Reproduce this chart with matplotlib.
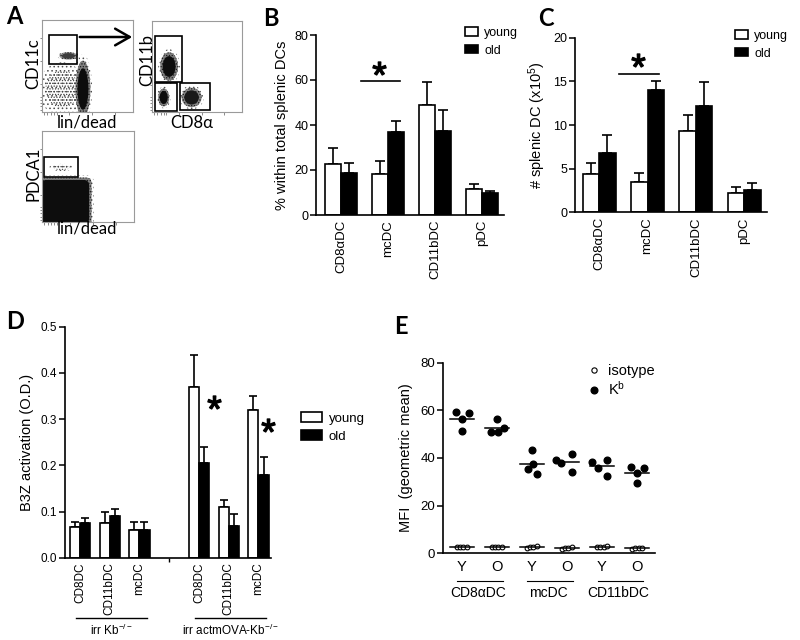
import numpy as np
import matplotlib
matplotlib.use('Agg')
import matplotlib.pyplot as plt
from matplotlib.patches import Ellipse, Rectangle, Patch, FancyArrowPatch, FancyBboxPatch
from matplotlib.lines import Line2D
import matplotlib.transforms as mtrans

plt.rcParams['font.family'] = ['Liberation Sans', 'DejaVu Sans']
plt.rcParams['mathtext.fontset'] = 'custom'
plt.rcParams['mathtext.rm'] = 'Liberation Sans'
plt.rcParams['mathtext.it'] = 'Liberation Sans:italic'
plt.rcParams['mathtext.bf'] = 'Liberation Sans:bold'
plt.rcParams['hatch.linewidth'] = 0.6

# ---------------- data ----------------
# Panel A: flow populations (shape, cx, cy, width, height, darkness) in plot fraction
flow_tl_pops = [('e', 0.22, 0.25, 0.52, 0.58, 0.3),
                ('e', 0.45, 0.25, 0.20, 0.75, 1.0),
                ('e', 0.29, 0.61, 0.24, 0.10, 0.8)]
flow_tr_pops = [('e', 0.19, 0.50, 0.24, 0.38, 1.0),
                ('e', 0.13, 0.16, 0.15, 0.24, 1.0),
                ('e', 0.44, 0.16, 0.27, 0.26, 0.95)]
flow_bl_pops = [('r', 0.25, 0.22, 0.62, 0.58, 1.0),
                ('e', 0.21, 0.60, 0.26, 0.08, 0.4)]
flow_tl_gates = [(0.08, 0.52, 0.30, 0.32)]
flow_tr_gates = [(0.03, 0.33, 0.30, 0.51), (0.03, 0.01, 0.25, 0.31), (0.31, 0.02, 0.33, 0.30)]
flow_bl_gates = [(0.02, 0.49, 0.37, 0.22)]

# Panel B: % within total splenic DCs
dc_types = ['CD8\u03b1DC', 'mcDC', 'CD11bDC', 'pDC']
b_young = [22.5, 18.2, 48.9, 11.6]
b_young_sem = [7.5, 5.7, 10.4, 2.0]
b_old = [18.8, 37.0, 37.5, 9.6]
b_old_sem = [4.2, 4.9, 9.0, 1.1]

# Panel C: # splenic DC (x10^5)
c_young = [4.35, 3.44, 9.3, 2.2]
c_young_sem = [1.25, 1.1, 1.8, 0.7]
c_old = [6.83, 14.0, 12.2, 2.55]
c_old_sem = [2.07, 1.07, 2.7, 0.75]

# Panel D: B3Z activation
d_types = ['CD8DC', 'CD11bDC', 'mcDC']
d_groups = ['irr Kb$^{\\mathregular{-/-}}$', 'irr actmOVA-Kb$^{\\mathregular{-/-}}$']
d_young = [0.067, 0.076, 0.060, 0.370, 0.110, 0.320]
d_young_sem = [0.011, 0.022, 0.018, 0.069, 0.014, 0.030]
d_old = [0.076, 0.091, 0.060, 0.206, 0.069, 0.180]
d_old_sem = [0.011, 0.014, 0.018, 0.034, 0.026, 0.037]

# Panel E: MFI
e_groups = ['CD8\u03b1DC', 'mcDC', 'CD11bDC']
e_ages = ['Y', 'O']
e_kb = [[59.4, 56.2, 51.3, 58.7],
        [56.2, 51.0, 51.0, 52.4],
        [43.4, 35.2, 37.5, 33.3],
        [39.2, 37.8, 41.5, 34.0],
        [38.3, 35.7, 39.2, 32.6],
        [36.1, 35.9, 33.8, 29.6]]
e_kb_jitter = [[-0.16, 0.02, 0.02, 0.22],
               [0.00, -0.17, 0.03, 0.22],
               [0.02, -0.11, 0.03, 0.16],
               [-0.31, -0.15, 0.14, 0.14],
               [-0.27, -0.11, 0.16, 0.16],
               [-0.17, 0.21, 0.02, 0.02]]
e_iso = [[2.5, 2.5, 2.6, 2.6],
         [2.6, 2.5, 2.6, 2.7],
         [2.3, 2.5, 2.6, 2.9],
         [2.0, 2.1, 2.3, 2.8],
         [2.6, 2.5, 2.6, 3.0],
         [2.0, 2.3, 2.4, 2.3]]
e_iso_jitter = [-0.13, -0.04, 0.05, 0.14]

# ---------------- figure ----------------
W, H = 800, 640
fig = plt.figure(figsize=(8, 6.4), dpi=100)


def ax_px(x0, y0, x1, y1):
    return fig.add_axes([x0 / W, 1 - y1 / H, (x1 - x0) / W, (y1 - y0) / H])


def ftext(x, y, s, **kw):
    return fig.text(x / W, 1 - y / H, s, **kw)


LETTER = dict(fontsize=17, fontweight='bold', family=['Lato', 'DejaVu Sans'], va='top', ha='left')
ftext(6, 5, 'A', **LETTER)
ftext(263, 7, 'B', **LETTER)
ftext(538, 7, 'C', **LETTER)
ftext(6, 310, 'D', **LETTER)
ftext(394, 315, 'E', **LETTER)


# ---------- Panel A ----------
def shape_patch(kind, cx, cy, w, h, scale, **kw):
    if kind == 'e':
        return Ellipse((cx, cy), w * scale, h * scale, **kw)
    inset = (1 - scale) * 0.12
    return FancyBboxPatch((cx - w / 2 + inset, cy - h / 2 + inset), w - 2 * inset, h - 2 * inset,
                          boxstyle='round,pad=0,rounding_size=0.06', **kw)


def flow_axes(box, pops, gates):
    ax = ax_px(*box)
    ax.set_xlim(0, 1)
    ax.set_ylim(0, 1)
    for s in ax.spines.values():
        s.set_color('#9a9a9a')
        s.set_linewidth(0.8)
    ticks = [0.02, 0.06, 0.10, 0.13, 0.16, 0.30, 0.55, 0.80]
    ax.set_xticks(ticks)
    ax.set_yticks(ticks)
    ax.set_xticklabels([])
    ax.set_yticklabels([])
    ax.tick_params(length=1.8, width=0.6, color='#777777', direction='out')
    for (kind, cx, cy, w, h, d) in pops:
        ax.add_patch(shape_patch(kind, cx, cy, w, h, 1.0, facecolor='none',
                                 edgecolor=(0.3, 0.3, 0.3), hatch='....', lw=0))
        if d >= 0.5:
            g1 = 1 - 0.5 * d
            ax.add_patch(shape_patch(kind, cx, cy, w, h, 0.82, facecolor=(g1, g1, g1), edgecolor='none'))
            ax.add_patch(shape_patch(kind, cx, cy, w, h, 0.82, facecolor='none',
                                     edgecolor=(0.1, 0.1, 0.1), hatch='......', lw=0))
            g2 = 1 - 0.95 * d
            ax.add_patch(shape_patch(kind, cx, cy, w, h, 0.6, facecolor=(g2, g2, g2), edgecolor='none'))
        else:
            ax.add_patch(shape_patch(kind, cx, cy, w, h, 0.7, facecolor='none',
                                     edgecolor=(0.25, 0.25, 0.25), hatch='......', lw=0))
    for (gx, gy, gw, gh) in gates:
        ax.add_patch(Rectangle((gx, gy), gw, gh, facecolor='none', edgecolor='black', lw=1.2))
    return ax


flow_axes((42, 20, 133, 112), flow_tl_pops, flow_tl_gates)
flow_axes((152, 21, 242, 112), flow_tr_pops, flow_tr_gates)
flow_axes((42, 131, 134, 222), flow_bl_pops, flow_bl_gates)

FL = dict(family=['Lato', 'DejaVu Sans'], fontsize=12, ha='center', va='center')
ftext(33, 64, 'CD11c', rotation=90, **FL)
ftext(87, 122, 'lin/dead', **FL)
ftext(147, 60, 'CD11b', rotation=90, **FL)
ftext(192, 123, 'CD8\u03b1', **FL)
ftext(33, 174, 'PDCA1', rotation=90, **FL)
ftext(87, 229, 'lin/dead', **FL)
fig.add_artist(FancyArrowPatch(
    (77 / W, 1 - 37 / H), (135 / W, 1 - 37 / H), transform=fig.transFigure,
    arrowstyle='->,head_length=7,head_width=4', lw=1.8, color='black',
    mutation_scale=1.5))


# ---------- helpers ----------
def style(ax, ysize=9):
    for s in ['top', 'right']:
        ax.spines[s].set_visible(False)
    for s in ['left', 'bottom']:
        ax.spines[s].set_linewidth(1.2)
    ax.tick_params(axis='y', length=4, width=1.1, labelsize=ysize, pad=1.5)
    ax.tick_params(axis='x', length=0)


def bars(ax, x, young, ysem, old, osem, w=0.34, cap=3.3):
    x = np.asarray(x, dtype=float)
    ax.bar(x - w / 2, young, w, color='white', edgecolor='black', lw=1.2, zorder=2)
    ax.bar(x + w / 2, old, w, color='black', edgecolor='black', lw=1.2, zorder=2)
    z = np.zeros(len(x))
    ax.errorbar(x - w / 2, young, yerr=[z, ysem], fmt='none', ecolor='black',
                elinewidth=1.2, capsize=cap, capthick=1.2, zorder=1)
    ax.errorbar(x + w / 2, old, yerr=[z, osem], fmt='none', ecolor='black',
                elinewidth=1.2, capsize=cap, capthick=1.2, zorder=1)


def bar_legend(ax, anchor, fs, hl, hh, spacing):
    handles = [Patch(facecolor='white', edgecolor='black', lw=1.2),
               Patch(facecolor='black', edgecolor='black', lw=1.2)]
    ax.legend(handles, ['young', 'old'], loc='upper left',
              bbox_to_anchor=(anchor[0] / W, 1 - anchor[1] / H),
              bbox_transform=fig.transFigure, frameon=False, fontsize=fs,
              handlelength=hl, handleheight=hh, handletextpad=0.5,
              labelspacing=spacing, borderpad=0, borderaxespad=0)


STAR_MS = 9.5


def sig(ax, x0, x1, y, sy):
    ax.plot([x0, x1], [y, y], color='black', lw=1.2, clip_on=False)
    ax.plot([(x0 + x1) / 2 - 0.03], [sy], marker='$*$', ms=STAR_MS, color='black', clip_on=False)


# ---------- Panel B ----------
axB = ax_px(316, 35, 504, 215)
style(axB)
xb = np.arange(len(dc_types))
bars(axB, xb, b_young, b_young_sem, b_old, b_old_sem)
axB.set_xlim(-0.53, 3.47)
axB.set_ylim(0, 80)
axB.set_yticks([0, 20, 40, 60, 80])
axB.set_xticks(xb)
axB.set_xticklabels(dc_types, rotation=90, fontsize=9.5)
axB.set_ylabel('% within total splenic DCs', fontsize=10.5, labelpad=4)
sig(axB, 0.42, 1.26, 59.6, 65.5)
bar_legend(axB, (465, 27), 9, 1.05, 0.65, 0.45)

# ---------- Panel C ----------
axC = ax_px(575, 37.7, 767, 212.3)
style(axC)
bars(axC, xb, c_young, c_young_sem, c_old, c_old_sem)
axC.set_xlim(-0.5, 3.47)
axC.set_ylim(0, 20)
axC.set_yticks([0, 5, 10, 15, 20])
axC.set_xticks(xb)
axC.set_xticklabels(dc_types, rotation=90, fontsize=9.5)
axC.set_ylabel('# splenic DC (x10$^{\\mathregular{5}}$)', fontsize=10.5, labelpad=4)
sig(axC, 0.41, 1.24, 15.8, 17.4)
bar_legend(axC, (735, 30), 9, 1.05, 0.65, 0.45)

# ---------- Panel D ----------
axD = ax_px(65, 326.7, 271, 557.7)
style(axD, ysize=8.5)
xd = np.array([0, 1, 2, 4, 5, 6])
bars(axD, xd, d_young, d_young_sem, d_old, d_old_sem, w=0.34, cap=2.8)
axD.set_xlim(-0.5, 6.42)
axD.set_ylim(0, 0.5)
axD.set_yticks([0.0, 0.1, 0.2, 0.3, 0.4, 0.5])
axD.set_yticklabels(['%.1f' % v for v in [0.0, 0.1, 0.2, 0.3, 0.4, 0.5]])
axD.set_xticks(xd)
axD.set_xticklabels(d_types * 2, rotation=90, fontsize=8.5)
axD.set_xticks([3], minor=True)
axD.tick_params(axis='x', which='minor', length=3, width=1)
axD.set_ylabel('B3Z activation (O.D.)', fontsize=10.5, labelpad=5)
trD = mtrans.blended_transform_factory(axD.transData, axD.transAxes)
for gi, gname in enumerate(d_groups):
    start = xd[gi * 3] - 0.13
    end = xd[gi * 3 + 2] + 0.26
    axD.plot([start, end], [-0.262, -0.262], color='black', lw=1.0, transform=trD, clip_on=False)
    axD.text((start + end) / 2, -0.28, gname, transform=trD, ha='center', va='top', fontsize=8.5)
axD.plot([4.5], [0.338], marker='$*$', ms=STAR_MS, color='black', clip_on=False)
axD.plot([6.32], [0.287], marker='$*$', ms=STAR_MS, color='black', clip_on=False)
bar_legend(axD, (301, 412), 9.5, 1.6, 0.8, 0.4)

# ---------- Panel E ----------
axE = ax_px(442.7, 362.7, 655, 553.3)
style(axE, ysize=9.5)
for i in range(len(e_kb)):
    xs = i + np.array(e_kb_jitter[i])
    axE.plot(xs, e_kb[i], 'o', color='black', ms=4.8, ls='none', zorder=3, clip_on=False)
    m = np.mean(e_kb[i])
    axE.plot([i - 0.34, i + 0.34], [m, m], color='black', lw=1.1, zorder=2)
    xi = i + np.array(e_iso_jitter)
    axE.plot(xi, e_iso[i], 'o', mfc='white', mec='black', mew=0.8, ms=3.4, ls='none', zorder=3, clip_on=False)
    mi = np.mean(e_iso[i])
    axE.plot([i - 0.34, i + 0.34], [mi, mi], color='black', lw=1.1, zorder=4, clip_on=False)
axE.set_xlim(-0.54, 5.52)
axE.set_ylim(0, 80)
axE.set_yticks([0, 20, 40, 60, 80])
axE.set_xticks(np.arange(6))
axE.set_xticklabels(e_ages * 3, fontsize=10.5)
axE.tick_params(axis='x', pad=5)
axE.set_ylabel('MFI  (geometric mean)', fontsize=10.5, labelpad=5)
trE = mtrans.blended_transform_factory(axE.transData, axE.transAxes)
for gi, gname in enumerate(e_groups):
    start = 2 * gi - 0.12
    end = 2 * gi + 1.17
    axE.plot([start, end], [-0.144, -0.144], color='black', lw=0.8, transform=trE, clip_on=False)
    axE.text((start + end) / 2 - 0.05, -0.17, gname, transform=trE, ha='center', va='top', fontsize=10)
e_handles = [Line2D([], [], marker='o', ls='none', mfc='white', mec='black', mew=0.8, ms=3.8),
             Line2D([], [], marker='o', ls='none', color='black', ms=4.8)]
axE.legend(e_handles, ['isotype', 'K$^{\\mathregular{b}}$'], loc='upper left',
           bbox_to_anchor=(588 / W, 1 - 364 / H), bbox_transform=fig.transFigure,
           frameon=False, fontsize=10.5, handlelength=0.8, handletextpad=0.6,
           labelspacing=0.15, borderpad=0, borderaxespad=0)

fig.savefig('out.png', dpi=100)
